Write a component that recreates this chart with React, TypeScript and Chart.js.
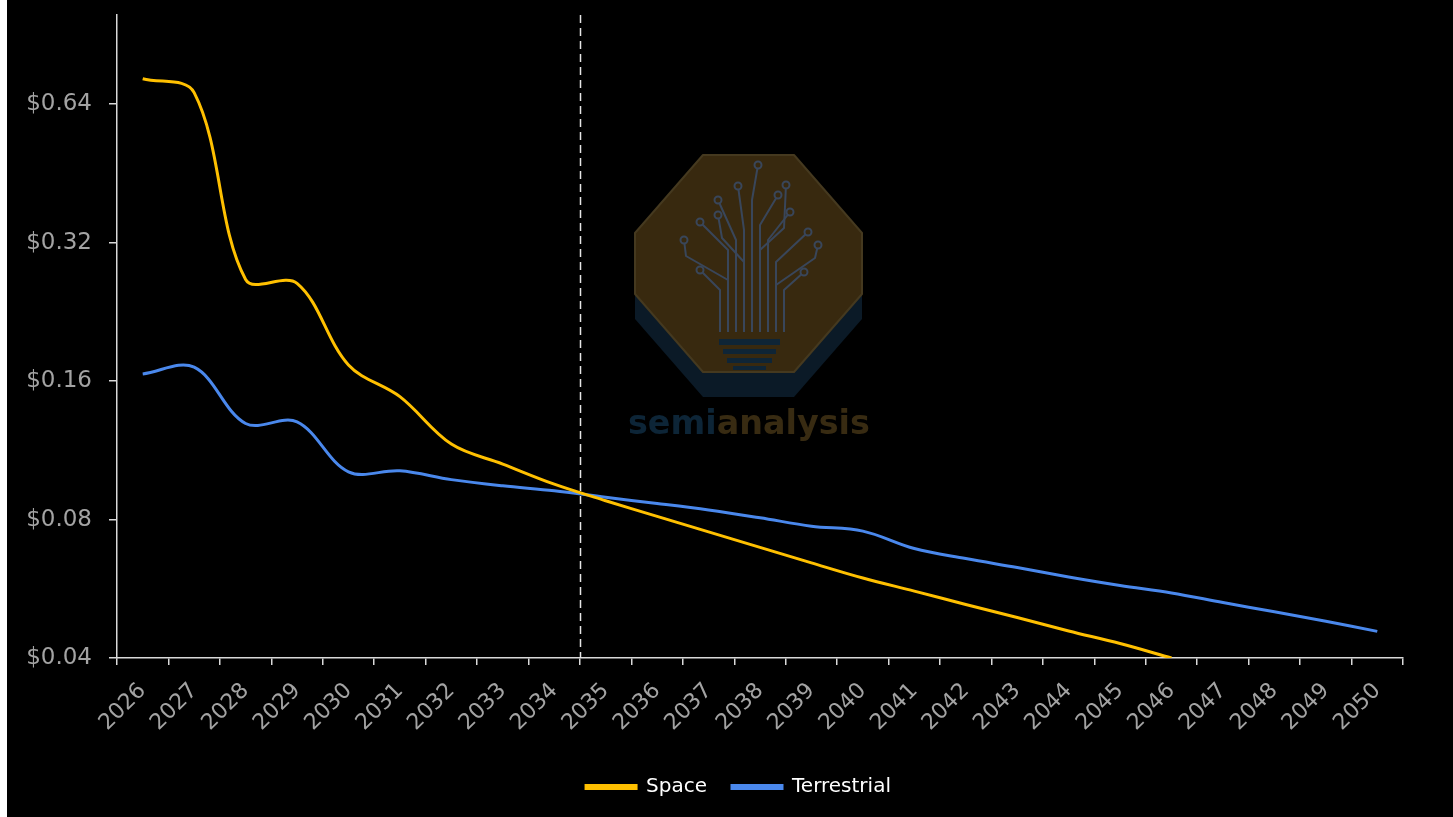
import React, { useEffect, useRef } from 'react';
import { Chart, registerables } from 'chart.js';

Chart.register(...registerables);

const years = [
  '2026', '2027', '2028', '2029', '2030', '2031', '2032', '2033', '2034', '2035',
  '2036', '2037', '2038', '2039', '2040', '2041', '2042', '2043', '2044', '2045',
  '2046', '2047', '2048', '2049', '2050',
];

// Space cost ($), runs off the bottom of the axis after 2046
const spaceCost = [
  0.727, 0.678, 0.266, 0.261, 0.1734, 0.148, 0.1167, 0.1056, 0.0955, 0.0879,
  0.0813, 0.0752, 0.0696, 0.0644, 0.0597, 0.0559, 0.0523, 0.049, 0.0458, 0.043,
  0.04,
];

// Terrestrial cost ($)
const terrestrialCost = [
  0.1658, 0.1715, 0.1294, 0.1304, 0.1016, 0.1021, 0.0977, 0.0947, 0.0924, 0.0894,
  0.0867, 0.0839, 0.0807, 0.0774, 0.0755, 0.0692, 0.0658, 0.0629, 0.06, 0.0575,
  0.0554, 0.0528, 0.0504, 0.0481, 0.0457,
];

const yTickValues = [0.04, 0.08, 0.16, 0.32, 0.64];
const yMin = 0.04;
const yMax = 1.0;
const dividerBetween = ['2034', '2035'];

const seriesNames = ['Space', 'Terrestrial'];
const seriesColors = ['#FFC000', '#4A88EC'];

const AXIS_COLOR = '#d9d9d9';
const TICK_COLOR = '#a3a3a3';
const FONT = '"DejaVu Sans", "Noto Sans", sans-serif';

const overlayPlugin = {
  id: 'overlay',
  afterLayout(chart: any) {
    const lg = chart.legend;
    if (lg) {
      lg.left += 33.5;
      lg.right += 33.5;
    }
  },
  beforeDatasetsDraw(chart: any) {
    const { ctx, chartArea, scales } = chart;
    // watermark (page coords shifted by canvas offset 7)
    const ox = -7;
    ctx.save();
    const oct = (l: number, t: number, r: number, b: number, cx: number, cy: number) => {
      ctx.beginPath();
      ctx.moveTo(l + cx, t);
      ctx.lineTo(r - cx, t);
      ctx.lineTo(r, t + cy);
      ctx.lineTo(r, b - cy);
      ctx.lineTo(r - cx, b);
      ctx.lineTo(l + cx, b);
      ctx.lineTo(l, b - cy);
      ctx.lineTo(l, t + cy);
      ctx.closePath();
    };
    ctx.lineJoin = 'round';
    // shadow
    oct(635 + ox, 180, 862 + ox, 397, 68, 78);
    ctx.fillStyle = '#0b1a27';
    ctx.fill();
    // body
    oct(635 + ox, 155, 862 + ox, 372, 68, 78);
    ctx.fillStyle = '#38290f';
    ctx.fill();
    ctx.lineWidth = 2;
    ctx.strokeStyle = '#45391f';
    ctx.stroke();
    // circuit tree
    ctx.strokeStyle = '#39465a';
    ctx.fillStyle = '#38290f';
    ctx.lineWidth = 2;
    const branches: number[][] = [
      [728, 332, 728, 250, 700, 222],
      [736, 332, 736, 240, 718, 200],
      [744, 332, 744, 230, 738, 186],
      [752, 332, 752, 200, 758, 165],
      [760, 332, 760, 225, 778, 195],
      [768, 332, 768, 240, 790, 212],
      [776, 332, 776, 262, 808, 232],
      [720, 332, 720, 290, 700, 270],
      [784, 332, 784, 290, 804, 272],
      [744, 262, 722, 238, 718, 215],
      [760, 250, 784, 228, 786, 185],
      [728, 280, 686, 256, 684, 240],
      [776, 285, 815, 258, 818, 245],
    ];
    branches.forEach((b) => {
      ctx.beginPath();
      ctx.moveTo(b[0] + ox, b[1]);
      ctx.lineTo(b[2] + ox, b[3]);
      ctx.lineTo(b[4] + ox, b[5]);
      ctx.stroke();
      ctx.beginPath();
      ctx.arc(b[4] + ox, b[5], 3.5, 0, Math.PI * 2);
      ctx.fill();
      ctx.stroke();
    });
    // bulb base
    ctx.fillStyle = '#0f2536';
    ctx.fillRect(719 + ox, 339, 61, 6);
    ctx.fillRect(723 + ox, 349, 53, 5);
    ctx.fillRect(727 + ox, 358, 45, 5);
    ctx.fillRect(733 + ox, 366, 33, 4);
    // text
    const txt1 = 'semi';
    const txt2 = 'analysis';
    ctx.font = `bold 40px ${FONT}`;
    const w = ctx.measureText(txt1 + txt2).width;
    const size = (40 * 242) / w;
    ctx.font = `bold ${size}px ${FONT}`;
    ctx.textBaseline = 'alphabetic';
    ctx.textAlign = 'left';
    ctx.fillStyle = '#0d2537';
    ctx.fillText(txt1, 628 + ox, 434);
    const w1 = ctx.measureText(txt1).width;
    ctx.fillStyle = '#382b12';
    ctx.fillText(txt2, 628 + ox + w1, 434);
    ctx.restore();

    // dashed divider between two categories
    const xs = scales.x;
    const i0 = years.indexOf(dividerBetween[0]);
    const i1 = years.indexOf(dividerBetween[1]);
    const px = Math.round(xs.getPixelForValue((i0 + i1) / 2)) + 0.5;
    ctx.save();
    ctx.strokeStyle = '#e6e6e6';
    ctx.lineWidth = 1.5;
    ctx.setLineDash([8, 5]);
    ctx.beginPath();
    ctx.moveTo(px, chartArea.top);
    ctx.lineTo(px, chartArea.bottom);
    ctx.stroke();
    ctx.restore();
  },
};

export default function App() {
  const canvasRef = useRef<HTMLCanvasElement | null>(null);

  useEffect(() => {
    const canvas = canvasRef.current;
    if (!canvas) return;
    const chart = new Chart(canvas, {
      type: 'line',
      data: {
        labels: years,
        datasets: [
          {
            label: seriesNames[0],
            data: spaceCost,
            borderColor: seriesColors[0],
            backgroundColor: seriesColors[0],
            borderWidth: 3,
            pointRadius: 0,
            tension: 0.35,
          },
          {
            label: seriesNames[1],
            data: terrestrialCost,
            borderColor: seriesColors[1],
            backgroundColor: seriesColors[1],
            borderWidth: 3,
            pointRadius: 0,
            tension: 0.35,
          },
        ],
      },
      options: {
        responsive: false,
        animation: false,
        layout: { padding: { left: 0, right: 50, top: 15, bottom: 10 } },
        plugins: {
          legend: {
            display: true,
            position: 'bottom',
            labels: {
              color: '#ffffff',
              font: { family: FONT, size: 20 },
              boxWidth: 50,
              boxHeight: 3,
              padding: 25,
            },
          },
          tooltip: { enabled: false },
        },
        scales: {
          x: {
            type: 'category',
            offset: true,
            grid: {
              offset: true,
              drawOnChartArea: false,
              drawTicks: true,
              tickLength: 7,
              color: AXIS_COLOR,
              lineWidth: 1.5,
            },
            border: { display: true, color: AXIS_COLOR, width: 1.5 },
            ticks: {
              color: TICK_COLOR,
              font: { family: FONT, size: 22 },
              minRotation: 45,
              maxRotation: 45,
              autoSkip: false,
              padding: 13,
            },
            afterFit(scale: any) {
              scale.height = 94;
            },
          },
          y: {
            type: 'logarithmic',
            min: yMin,
            max: yMax,
            grid: {
              drawOnChartArea: false,
              drawTicks: true,
              tickLength: 8,
              color: AXIS_COLOR,
              lineWidth: 1.5,
            },
            border: { display: true, color: AXIS_COLOR, width: 1.5 },
            ticks: {
              color: TICK_COLOR,
              font: { family: FONT, size: 23 },
              padding: 17,
              callback: (v: any) => '$' + Number(v).toFixed(2),
            },
            afterBuildTicks(scale: any) {
              scale.ticks = yTickValues.map((v) => ({ value: v }));
            },
            afterFit(scale: any) {
              scale.width = 110;
              scale.paddingTop = 0;
              scale.paddingBottom = 0;
            },
          },
        },
      },
      plugins: [overlayPlugin],
    });
    return () => chart.destroy();
  }, []);

  return (
    <div style={{ position: 'fixed', left: 0, top: 0, width: 1453, height: 817, background: '#ffffff', overflow: 'hidden' }}>
      <div style={{ position: 'absolute', left: 7, top: 0, width: 1446, height: 817, background: '#000000' }}>
        <canvas ref={canvasRef} width={1446} height={817} style={{ display: 'block', width: 1446, height: 817 }} />
      </div>
    </div>
  );
}
